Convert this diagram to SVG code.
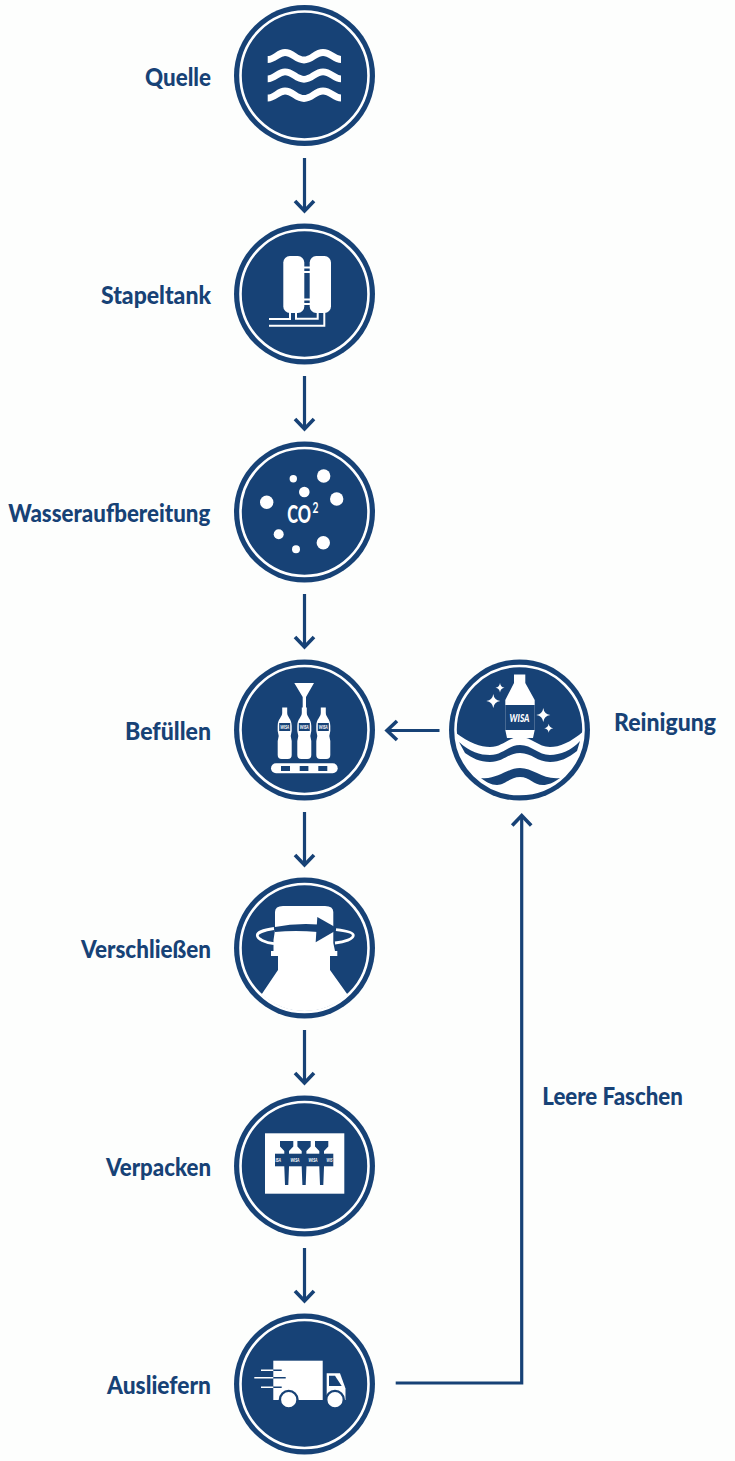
<svg xmlns="http://www.w3.org/2000/svg" width="735" height="1461" viewBox="0 0 735 1461">
<defs>
<style>
.lbl{font-family:"Lato","Liberation Sans",sans-serif;font-weight:900;font-size:25px;fill:#174276}
.cd{fill:#174276}
.rg{fill:none;stroke:#fff;stroke-width:2.6}
.ln{fill:none;stroke:#174276;stroke-width:3.2}
.w{fill:#fff}
.wl{fill:none;stroke:#fff}
.dl{fill:none;stroke:#174276}
.b{fill:#174276}
.tiny{font-family:"Lato",sans-serif;font-weight:900;font-style:italic;font-size:5px;fill:#fff}
</style>
<marker id="ah" markerUnits="userSpaceOnUse" markerWidth="26" markerHeight="26" refX="21" refY="13" orient="auto">
<path d="M11 3.500L21 13L11 22.500" fill="none" stroke="#174276" stroke-width="3.600"/>
</marker>
<clipPath id="rc"><circle cx="519.500" cy="730" r="64"/></clipPath>
<g id="disc"><circle class="cd" r="70.500"/><circle class="rg" r="64"/></g>
<path id="wave" class="wl" stroke-width="6.800" d="M267.700 59.500C275 59.500 278 52.500 285 52.500C293 52.500 296 60 304 60C312 60 315 52.500 323 52.500C331 52.500 334 59.500 341 59.500"/>
<g id="bot">
<path class="w" d="M-2.500-24.500H2.500V-19C2.500-15 7-13 7-6V-1L6 4L7 9V23Q7 27 3 27H-3Q-7 27-7 23V9L-6 4L-7-1V-6C-7-13-2.500-15-2.500-19Z"/>
<rect class="b" x="-5.500" y="-9" width="11" height="8"/>
<text class="tiny" x="-4.500" y="-3.200" textLength="9" lengthAdjust="spacingAndGlyphs">WISA</text>
</g>
<path id="neck" class="b" d="M0 1141H13.300V1146.500L9 1151V1167L8.300 1185H5L4.300 1167V1151L0 1146.500Z"/>
</defs>
<rect width="735" height="1461" fill="#fdfefd"/>
<g id="connectors">
<path class="ln" marker-end="url(#ah)" d="M304.500 158V211"/>
<path class="ln" marker-end="url(#ah)" d="M304.500 376V429"/>
<path class="ln" marker-end="url(#ah)" d="M304.500 594V647"/>
<path class="ln" marker-end="url(#ah)" d="M304.500 812V865"/>
<path class="ln" marker-end="url(#ah)" d="M304.500 1030V1083"/>
<path class="ln" marker-end="url(#ah)" d="M304.500 1248V1301"/>
<path class="ln" marker-end="url(#ah)" d="M439.500 730.500H387"/>
<path class="ln" marker-end="url(#ah)" d="M395.700 1383H521.700V815.500"/>
</g>
<g id="quelle">
<use href="#disc" x="304.500" y="75.500"/>
<use href="#wave"/>
<use href="#wave" y="19.300"/>
<use href="#wave" y="38.500"/>
<text class="lbl" x="145" y="86" textLength="66" lengthAdjust="spacingAndGlyphs">Quelle</text>
</g>
<g id="stapeltank">
<use href="#disc" x="304.500" y="294"/>
<rect class="w" x="283.300" y="256" width="21" height="57" rx="6.500"/>
<rect class="w" x="309.700" y="256" width="21.300" height="57" rx="6.500"/>
<path class="wl" stroke-width="1.800" d="M304 267.500H310M304 272H310M304 299.500H310M304 304H310"/>
<path class="wl" stroke-width="2" d="M269 319H290V312M269 325.700H324.300V312M296 312V318.700H317.700V312"/>
<text class="lbl" x="101" y="304" textLength="110" lengthAdjust="spacingAndGlyphs">Stapeltank</text>
</g>
<g id="wasser">
<use href="#disc" x="304.500" y="512"/>
<circle class="w" cx="266.700" cy="502.300" r="6.700"/>
<circle class="w" cx="293.300" cy="478.700" r="3.700"/>
<circle class="w" cx="304.300" cy="492" r="5.300"/>
<circle class="w" cx="323.700" cy="476" r="6.700"/>
<circle class="w" cx="336.700" cy="499" r="6.700"/>
<circle class="w" cx="278.700" cy="534.300" r="5"/>
<circle class="w" cx="296" cy="549.300" r="4"/>
<circle class="w" cx="323.300" cy="542.700" r="6.700"/>
<text transform="translate(287.300 523) scale(0.68 1)" font-family="Lato,sans-serif" font-weight="900" font-size="24" fill="#fff">CO<tspan dx="2" dy="-10" font-size="15" font-weight="700">2</tspan></text>
<text class="lbl" x="8.300" y="522" textLength="202" lengthAdjust="spacingAndGlyphs">Wasseraufbereitung</text>
</g>
<g id="befuellen">
<use href="#disc" x="304.500" y="730"/>
<path class="w" d="M294.300 683H314L306 697V708H302.700V697Z"/>
<use href="#bot" x="284.700" y="732"/>
<use href="#bot" x="304.300" y="732"/>
<use href="#bot" x="323.300" y="732"/>
<rect class="w" x="271" y="763.300" width="66.700" height="10" rx="5"/>
<rect class="b" x="281" y="766" width="9" height="5"/>
<rect class="b" x="299.700" y="766" width="8.700" height="5"/>
<rect class="b" x="318.300" y="766" width="9" height="5"/>
<text class="lbl" x="125" y="740" textLength="86" lengthAdjust="spacingAndGlyphs">Befüllen</text>
</g>
<g id="reinigung">
<use href="#disc" x="519.500" y="730"/>
<path class="w" d="M514 674.500H525.300V683L534.700 700V730L533 738H507L505.300 730V700L514 683Z"/>
<rect class="b" x="505.300" y="705" width="29.400" height="25"/>
<text x="509.500" y="722" font-family="Lato,sans-serif" font-weight="900" font-style="italic" font-size="11" fill="#fff" textLength="20" lengthAdjust="spacingAndGlyphs">WISA</text>
<path class="w" d="M493.300 694Q494 700 500.300 701Q494 702 493.300 708Q492.500 702 486.300 701Q492.500 700 493.300 694Z"/>
<path class="w" d="M500 683Q500.500 687 504.500 687.700Q500.500 688.500 500 692.500Q499.500 688.500 495.500 687.700Q499.500 687 500 683Z"/>
<path class="w" d="M543.300 708Q544 714 550.300 715Q544 716 543.300 722Q542.500 716 536.300 715Q542.500 714 543.300 708Z"/>
<path class="w" d="M548.700 723.800Q549.200 727.600 553.200 728.300Q549.200 729 548.700 732.800Q548.200 729 544.200 728.300Q548.200 727.600 548.700 723.800Z"/>
<path class="w" clip-path="url(#rc)" d="M452 730C468 743 480 747 490 747C503 747 508 737 520 737C532 737 538 747 550 747C560 747 572 742 587 728V800H452Z"/>
<path class="b" d="M459 742C470 752 480 755 490 755C503 755 508 745 520 745C532 745 538 755 550 755C560 755 572 750 580 741L577 751C568 758 560 762 550 762C537 762 532 753 520 753C508 753 503 762 490 762C480 762 472 758 465 753Z"/>
<path class="b" d="M481 778C497 780 507 768 520 768C533 768 543 780 560 778C553 783 548 785 543 785C533 785 530 777 520 777C510 777 505 785 497 785C491 785 486 782 481 778Z"/>
<text class="lbl" x="614" y="731" textLength="102" lengthAdjust="spacingAndGlyphs">Reinigung</text>
</g>
<g id="verschliessen">
<use href="#disc" x="304.500" y="948"/>
<path class="w" d="M275 912Q275 906 283 906H325Q333.300 906 333.300 912V943L335 951H337.300V956H330V970L347.500 994.500A64 64 0 0 1 261.500 994.500L278 970V956H271V951H273.500V940L275 930Z"/>
<path class="b" d="M275 927Q295 923 318 924.500V932Q295 930 275 932Z"/>
<path class="b" d="M317.300 917L338.500 929L315.700 942.300Z"/>
<path class="wl" stroke-width="2.800" d="M274 928.500C263 930 257.300 933 257.300 935.300C257.300 939 265 942.500 274 943.700"/>
<path class="wl" stroke-width="2.800" d="M336 929.700C347 931 353.300 933 353.300 935.300C353.300 939 345 942 335 943"/>
<text class="lbl" x="81" y="958" textLength="130" lengthAdjust="spacingAndGlyphs">Verschließen</text>
</g>
<g id="verpacken">
<use href="#disc" x="304.500" y="1166"/>
<rect class="w" x="265" y="1133.300" width="79.300" height="60.400"/>
<use href="#neck" x="280"/>
<use href="#neck" x="297.400"/>
<use href="#neck" x="315"/>
<rect class="b" x="275" y="1153.700" width="58.300" height="12.600"/>
<text class="tiny" x="275.500" y="1161.800" textLength="5.500" lengthAdjust="spacingAndGlyphs">ISA</text>
<text class="tiny" x="290.500" y="1161.800" textLength="9" lengthAdjust="spacingAndGlyphs">WISA</text>
<text class="tiny" x="308.500" y="1161.800" textLength="9" lengthAdjust="spacingAndGlyphs">WISA</text>
<text class="tiny" x="326.500" y="1161.800" textLength="6" lengthAdjust="spacingAndGlyphs">WIS</text>
<text class="lbl" x="106" y="1176" textLength="105" lengthAdjust="spacingAndGlyphs">Verpacken</text>
</g>
<g id="ausliefern">
<use href="#disc" x="304.500" y="1384"/>
<rect class="w" x="273.300" y="1360.700" width="49.400" height="39.300"/>
<path class="w" d="M326.700 1373.300H340L345.500 1388.500V1400H326.700Z"/>
<path class="b" d="M329 1375.700H335L341.700 1386H329Z"/>
<circle class="w" cx="288.700" cy="1399.700" r="8.800" stroke="#174276" stroke-width="2.400"/>
<circle class="w" cx="335" cy="1399.700" r="8.800" stroke="#174276" stroke-width="2.400"/>
<path class="dl" stroke-width="1.600" d="M273 1370.300H281.700M273 1377.700H285.700M273 1387.300H281.700"/>
<path class="wl" stroke-width="1.600" d="M261 1370.300H273.300M254.300 1377.700H273.300M261 1387.300H273.300"/>
<text class="lbl" x="107" y="1394" textLength="104" lengthAdjust="spacingAndGlyphs">Ausliefern</text>
</g>
<text class="lbl" x="542.300" y="1105" textLength="140.500" lengthAdjust="spacingAndGlyphs">Leere Faschen</text>
</svg>
